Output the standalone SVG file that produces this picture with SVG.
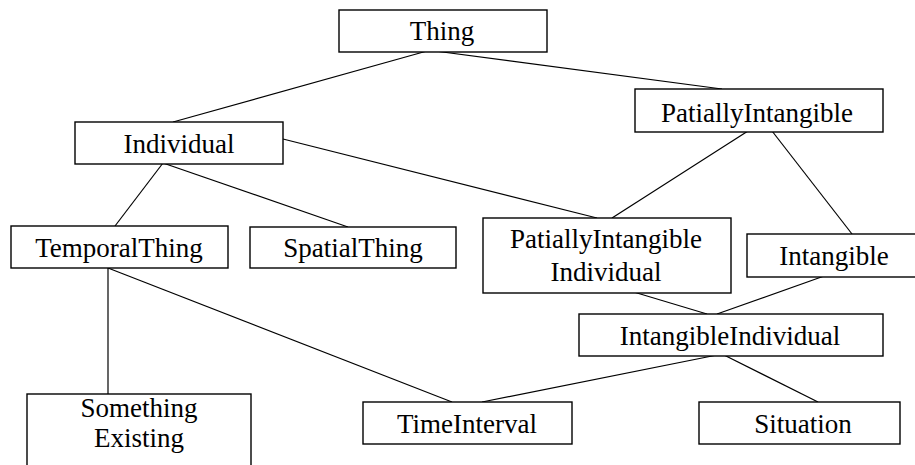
<svg xmlns="http://www.w3.org/2000/svg" width="915" height="465" viewBox="0 0 915 465">
  <style>
    .box { fill: #fff; stroke: #000; stroke-width: 1.4; }
    .edge { stroke: #000; stroke-width: 1.2; fill: none; }
    text { font-family: "Liberation Serif", "Times New Roman", serif; font-size: 27px; fill: #000; text-anchor: middle; }
  </style>
  <rect width="915" height="465" fill="#fff"/>

  <g id="connectors">
    <line class="edge" x1="427" y1="51" x2="173" y2="122"/>
    <line class="edge" x1="435" y1="51" x2="722" y2="89"/>
    <line class="edge" x1="283" y1="139" x2="597" y2="218"/>
    <line class="edge" x1="748" y1="131" x2="612" y2="218"/>
    <line class="edge" x1="772" y1="131" x2="852" y2="234"/>
    <line class="edge" x1="163" y1="163" x2="115" y2="226"/>
    <line class="edge" x1="163" y1="163" x2="348" y2="227"/>
    <line class="edge" x1="108" y1="268" x2="108" y2="394"/>
    <line class="edge" x1="108" y1="268" x2="452" y2="402"/>
    <line class="edge" x1="627" y1="290" x2="707" y2="314"/>
    <line class="edge" x1="827" y1="275" x2="717" y2="314"/>
    <line class="edge" x1="722" y1="354" x2="482" y2="402"/>
    <line class="edge" x1="722" y1="354" x2="818" y2="402"/>
  </g>

  <g id="thing">
    <rect class="box" x="339" y="10" width="208" height="42"/>
    <text x="442" y="40">Thing</text>
  </g>
  <g id="patially-intangible">
    <rect class="box" x="635" y="89" width="248" height="43"/>
    <text x="757" y="122">PatiallyIntangible</text>
  </g>
  <g id="individual">
    <rect class="box" x="75" y="122" width="208" height="42"/>
    <text x="179" y="153">Individual</text>
  </g>
  <g id="temporal-thing">
    <rect class="box" x="11" y="226" width="217" height="42"/>
    <text x="119" y="257">TemporalThing</text>
  </g>
  <g id="spatial-thing">
    <rect class="box" x="250" y="227" width="206" height="41"/>
    <text x="353" y="257">SpatialThing</text>
  </g>
  <g id="patially-intangible-individual">
    <rect class="box" x="483" y="218" width="248" height="75"/>
    <text x="606" y="248">PatiallyIntangible</text>
    <text x="606" y="281">Individual</text>
  </g>
  <g id="intangible">
    <rect class="box" x="747" y="234" width="180" height="43"/>
    <text x="834" y="265">Intangible</text>
  </g>
  <g id="intangible-individual">
    <rect class="box" x="579" y="314" width="304" height="42"/>
    <text x="730" y="345">IntangibleIndividual</text>
  </g>
  <g id="something-existing">
    <rect class="box" x="27" y="394" width="224" height="80"/>
    <text x="139" y="417">Something</text>
    <text x="139" y="447">Existing</text>
  </g>
  <g id="time-interval">
    <rect class="box" x="363" y="402" width="209" height="42"/>
    <text x="467" y="433">TimeInterval</text>
  </g>
  <g id="situation">
    <rect class="box" x="699" y="402" width="201" height="42"/>
    <text x="803" y="433">Situation</text>
  </g>
</svg>
